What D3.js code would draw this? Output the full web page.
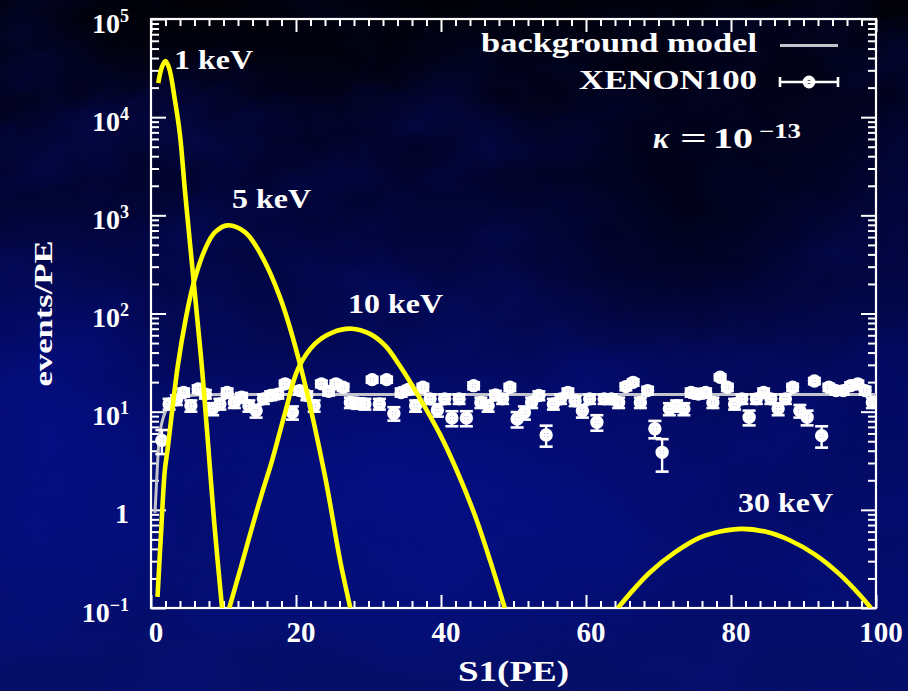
<!DOCTYPE html>
<html>
<head>
<meta charset="utf-8">
<script src="https://cdn.jsdelivr.net/npm/d3@7"></script>
<style>
  html, body { margin: 0; padding: 0; background: #030838; }
  svg { display: block; }
</style>
</head>
<body>
<script>
// ---------- data ----------
// XENON100 S1 spectrum: bin centres (PE), rate (events/PE), 1-sigma errors
const xenonS1 = [1.5, 2.5, 3.5, 4.5, 5.5, 6.5, 7.5, 8.5, 9.5, 10.5,
  11.5, 12.5, 13.5, 14.5, 15.5, 16.5, 17.5, 18.5, 19.5, 20.5,
  21.5, 22.5, 23.5, 24.5, 25.5, 26.5, 27.5, 28.5, 29.5, 30.5,
  31.5, 32.5, 33.5, 34.5, 35.5, 36.5, 37.5, 38.5, 39.5, 40.5,
  41.5, 42.5, 43.5, 44.5, 45.5, 46.5, 47.5, 48.5, 49.5, 50.5,
  51.5, 52.5, 53.5, 54.5, 55.5, 56.5, 57.5, 58.5, 59.5, 60.5,
  61.5, 62.5, 63.5, 64.5, 65.5, 66.5, 67.5, 68.5, 69.5, 70.5,
  71.5, 72.5, 73.5, 74.5, 75.5, 76.5, 77.5, 78.5, 79.5, 80.5,
  81.5, 82.5, 83.5, 84.5, 85.5, 86.5, 87.5, 88.5, 89.5, 90.5,
  91.5, 92.5, 93.5, 94.5, 95.5, 96.5, 97.5, 98.5, 99.5];
const xenonRate = [5.1, 12.0, 13.2, 15.7, 11.5, 17.0, 15.1, 10.7, 12.0, 15.7,
  12.4, 14.0, 11.5, 10.2, 13.5, 14.6, 15.1, 19.2, 9.8, 16.4,
  14.6, 11.5, 19.2, 16.1, 19.2, 17.7, 12.4, 12.2, 12.0, 21.2,
  12.0, 21.2, 9.6, 15.7, 16.8, 11.5, 17.7, 13.5, 10.4, 13.5,
  8.6, 13.5, 8.6, 18.4, 12.4, 11.5, 14.8, 13.5, 17.7, 8.4,
  9.8, 12.4, 14.6, 5.8, 12.0, 13.5, 15.7, 12.9, 10.2, 13.5,
  7.8, 13.5, 13.5, 12.4, 18.0, 19.9, 12.4, 16.4, 6.7, 3.85,
  10.7, 11.5, 10.7, 15.7, 15.1, 15.7, 12.4, 22.4, 17.7, 12.0,
  13.5, 8.75, 13.5, 15.7, 13.5, 10.7, 13.5, 17.7, 10.2, 8.75,
  20.5, 5.7, 17.7, 16.4, 16.4, 18.4, 19.2, 16.4, 12.4];
const xenonErr = [1.4, 1.5, 1.5, 1.5, 1.5, 1.5, 1.5, 1.5, 1.5, 1.5,
  1.5, 1.5, 1.5, 1.5, 1.5, 1.5, 1.5, 1.5, 1.5, 1.5,
  1.5, 1.5, 1.5, 1.5, 1.5, 1.5, 1.5, 1.5, 1.5, 1.5,
  1.5, 1.5, 1.5, 1.5, 1.5, 1.5, 1.5, 1.5, 1.5, 1.5,
  1.5, 1.5, 1.5, 1.5, 1.5, 1.5, 1.5, 1.5, 1.5, 1.5,
  1.5, 1.5, 1.5, 1.4, 1.5, 1.5, 1.5, 1.5, 1.5, 1.5,
  1.4, 1.5, 1.5, 1.5, 1.5, 1.5, 1.5, 1.5, 1.35, 1.4,
  1.5, 1.5, 1.5, 1.5, 1.5, 1.5, 1.5, 1.5, 1.5, 1.5,
  1.5, 1.5, 1.5, 1.5, 1.5, 1.5, 1.5, 1.5, 1.5, 1.5,
  1.5, 1.4, 1.5, 1.5, 1.5, 1.5, 1.5, 1.5, 1.5];

// background model
const bgS    = [0.55, 0.85, 1.1, 1.5, 2.1, 2.9, 4.0, 6.8, 10, 20, 30, 40, 50, 60, 70, 80, 90, 100];
const bgRate = [0.93, 2.5, 5.1, 7.7, 10.5, 12.9, 14.2, 14.9, 15, 15, 15, 15, 15, 15, 15, 15, 15, 15];

// signal spectra for kappa = 1e-13
const keV1S  = [1.0, 1.5, 2.0, 2.5, 3.3, 4.0, 4.7, 5.9, 7.0, 7.9, 8.7, 9.8];
const keV1R  = [22200, 32400, 37300, 31600, 14900, 6550, 1720, 207, 29.5, 4.4, 0.77, 0.1];
const keV5S  = [0.9, 1.4, 1.9, 2.3, 3.7, 4.8, 5.9, 7.5, 8.8, 10.6, 13.0, 15.0, 17.8, 20.6, 24.0, 26.1, 27.5];
const keV5R  = [0.13, 0.61, 2.5, 4.2, 29.5, 89, 207, 460, 671, 791, 671, 419, 146, 29.5, 2.2, 0.30, 0.1];
const keV10S = [10.8, 12.4, 13.8, 15.2, 16.6, 18.5, 20.3, 22.6, 25.0, 27.7, 30.2, 32.3, 34.3, 37.1, 39.9, 42.3, 44.7, 46.8, 48.8];
const keV10R = [0.1, 0.26, 0.61, 1.39, 3.0, 9.8, 27.5, 49, 64, 70, 62, 47, 29.5, 13.6, 5.8, 2.4, 0.87, 0.30, 0.1];
const keV30S = [64.4, 66.1, 68.8, 72.3, 75.7, 78.5, 81.5, 84.7, 88.1, 91.6, 95.0, 97.8, 99.3];
const keV30R = [0.1, 0.141, 0.23, 0.37, 0.52, 0.60, 0.64, 0.60, 0.49, 0.35, 0.22, 0.135, 0.1];

const curveNames = ["1 keV", "5 keV", "10 keV", "30 keV"];

// axis ticks
const xTickValues = [0, 20, 40, 60, 80, 100];
const xTickLabels = ["0", "20", "40", "60", "80", "100"];
const yTickValues = [0.1, 1, 10, 100, 1000, 10000, 100000];
const yTickBase   = ["10", "1", "10", "10", "10", "10", "10"];
const yTickExp    = ["\u22121", "", "1", "2", "3", "4", "5"];

// ---------- layout ----------
const W = 908, H = 691;
const L = 151, R = 876, T = 19, B = 608;
const FONT = "'Liberation Serif', 'Times New Roman', serif";

const svg = d3.select("body").append("svg")
  .attr("width", W).attr("height", H)
  .attr("viewBox", `0 0 ${W} ${H}`);

const defs = svg.append("defs");

// night-sky backdrop
const vg = defs.append("linearGradient").attr("id", "sky")
  .attr("x1", 0).attr("y1", 0).attr("x2", 0).attr("y2", 1);
[[0, "#010106"], [0.12, "#02021c"], [0.35, "#02053c"], [0.6, "#030a62"], [0.85, "#040d6c"], [1, "#050f66"]]
  .forEach(([o, c]) => vg.append("stop").attr("offset", o).attr("stop-color", c));

const clouds = defs.append("filter").attr("id", "clouds")
  .attr("x", 0).attr("y", 0).attr("width", "100%").attr("height", "100%")
  .attr("color-interpolation-filters", "sRGB");
clouds.append("feTurbulence").attr("type", "fractalNoise")
  .attr("baseFrequency", "0.008 0.012").attr("numOctaves", 4).attr("seed", 11);
clouds.append("feColorMatrix").attr("type", "matrix")
  .attr("values", "0 0 0 0 0.03  0 0 0 0 0.07  0 0 0 0 0.55  1.6 0 0 0 -0.62");

const darkSpot = defs.append("radialGradient").attr("id", "darkSpot");
darkSpot.append("stop").attr("offset", 0).attr("stop-color", "#000008").attr("stop-opacity", 0.7);
darkSpot.append("stop").attr("offset", 1).attr("stop-color", "#000008").attr("stop-opacity", 0);

const blueGlow = defs.append("radialGradient").attr("id", "blueGlow");
blueGlow.append("stop").attr("offset", 0).attr("stop-color", "#0612a0").attr("stop-opacity", 0.5);
blueGlow.append("stop").attr("offset", 1).attr("stop-color", "#0612a0").attr("stop-opacity", 0);

svg.append("rect").attr("width", W).attr("height", H).attr("fill", "url(#sky)");
svg.append("ellipse").attr("cx", 420).attr("cy", 500).attr("rx", 360).attr("ry", 180).attr("fill", "url(#blueGlow)");
svg.append("ellipse").attr("cx", 50).attr("cy", 440).attr("rx", 150).attr("ry", 240).attr("fill", "url(#blueGlow)");
svg.append("rect").attr("width", W).attr("height", H).attr("filter", "url(#clouds)").attr("opacity", 0.4);
svg.append("ellipse").attr("cx", 690).attr("cy", 200).attr("rx", 210).attr("ry", 170).attr("fill", "url(#darkSpot)");
svg.append("ellipse").attr("cx", 460).attr("cy", 10).attr("rx", 560).attr("ry", 110).attr("fill", "url(#darkSpot)");

defs.append("clipPath").attr("id", "plotClip")
  .append("rect").attr("x", L).attr("y", T).attr("width", R - L).attr("height", B - T);

// ---------- scales ----------
const x = d3.scaleLinear().domain([0, 100]).range([L, R]);
const y = d3.scaleLog().domain([0.1, 1e5]).range([B, T]);

// ---------- axes (ticks point inward, mirrored on all four sides) ----------
const xMinor = d3.range(0, 101, 2).filter(v => v % 20 !== 0);
const yMinor = [];
for (let e = -1; e < 5; e++) for (let m = 2; m <= 9; m++) yMinor.push(m * Math.pow(10, e));

function styleAxis(g) {
  g.select(".domain").remove();
  g.selectAll("line").attr("stroke", "#ffffff").attr("stroke-width", 2);
  g.selectAll("text").remove();
}
const axes = svg.append("g");
axes.append("g").attr("transform", `translate(0,${B})`)
  .call(d3.axisBottom(x).tickValues(xTickValues).tickSize(-13)).call(styleAxis);
axes.append("g").attr("transform", `translate(0,${B})`)
  .call(d3.axisBottom(x).tickValues(xMinor).tickSize(-7)).call(styleAxis);
axes.append("g").attr("transform", `translate(0,${T})`)
  .call(d3.axisTop(x).tickValues(xTickValues).tickSize(-13)).call(styleAxis);
axes.append("g").attr("transform", `translate(0,${T})`)
  .call(d3.axisTop(x).tickValues(xMinor).tickSize(-7)).call(styleAxis);
axes.append("g").attr("transform", `translate(${L},0)`)
  .call(d3.axisLeft(y).tickValues(yTickValues).tickSize(-15)).call(styleAxis);
axes.append("g").attr("transform", `translate(${L},0)`)
  .call(d3.axisLeft(y).tickValues(yMinor).tickSize(-8)).call(styleAxis);
axes.append("g").attr("transform", `translate(${R},0)`)
  .call(d3.axisRight(y).tickValues(yTickValues).tickSize(-15)).call(styleAxis);
axes.append("g").attr("transform", `translate(${R},0)`)
  .call(d3.axisRight(y).tickValues(yMinor).tickSize(-8)).call(styleAxis);

// frame
svg.append("rect").attr("x", L).attr("y", T).attr("width", R - L).attr("height", B - T)
  .attr("fill", "none").attr("stroke", "#ffffff").attr("stroke-width", 2.2);

// tick labels
const txt = svg.append("g").attr("fill", "#ffffff").attr("font-family", FONT).attr("font-weight", "bold");
txt.selectAll(".xl").data(xTickValues).join("text")
  .attr("x", d => x(d) + 5).attr("y", 642)
  .attr("text-anchor", "middle").attr("font-size", 29)
  .text((d, i) => xTickLabels[i]);

yTickValues.forEach((v, i) => {
  const t = txt.append("text").attr("x", 129).attr("y", y(v) + 13.5)
    .attr("text-anchor", "end").attr("font-size", 28);
  t.append("tspan").text(yTickBase[i]);
  if (yTickExp[i]) {
    t.append("tspan").attr("font-size", 18).attr("dy", -11).text(yTickExp[i]);
  }
});

// axis titles
txt.append("text").attr("x", (L + R) / 2).attr("y", 681)
  .attr("text-anchor", "middle").attr("font-size", 29)
  .attr("textLength", 111).attr("lengthAdjust", "spacingAndGlyphs")
  .text("S1(PE)");
txt.append("text")
  .attr("transform", `translate(52,${(T + B) / 2}) rotate(-90)`)
  .attr("text-anchor", "middle").attr("font-size", 25)
  .attr("textLength", 146).attr("lengthAdjust", "spacingAndGlyphs")
  .text("events/PE");

// ---------- plot content ----------
const plot = svg.append("g").attr("clip-path", "url(#plotClip)");
const smooth = d3.line().x(d => x(d[0])).y(d => y(d[1])).curve(d3.curveCatmullRom.alpha(0.5));
const mono = d3.line().x(d => x(d[0])).y(d => y(d[1])).curve(d3.curveMonotoneX);

// background model
plot.append("path")
  .datum(bgS.map((s, i) => [s, bgRate[i]]))
  .attr("d", mono).attr("fill", "none")
  .attr("stroke", "#c4c4cc").attr("stroke-width", 3);

// XENON100 points with error bars
const pts = xenonS1.map((s, i) => ({ s, v: xenonRate[i], e: xenonErr[i] }));
const pg = plot.append("g").attr("stroke", "#ffffff").attr("fill", "none");
pts.forEach(p => {
  const cx = x(p.s), cy = y(p.v);
  const y0 = y(p.v - p.e), y1 = y(p.v + p.e);
  const xa = x(p.s - 0.5), xb = x(p.s + 0.5);
  pg.append("line").attr("x1", cx).attr("x2", cx).attr("y1", y0).attr("y2", y1).attr("stroke-width", 2.4);
  pg.append("line").attr("x1", cx - 6.5).attr("x2", cx + 6.5).attr("y1", y0).attr("y2", y0).attr("stroke-width", 2.6);
  pg.append("line").attr("x1", cx - 6.5).attr("x2", cx + 6.5).attr("y1", y1).attr("y2", y1).attr("stroke-width", 2.6);
  pg.append("line").attr("x1", xa).attr("x2", xb).attr("y1", cy).attr("y2", cy).attr("stroke-width", 2.4);
  pg.append("circle").attr("cx", cx).attr("cy", cy).attr("r", 4.4).attr("stroke-width", 4.6);
});

// signal spectra
const spectra = [[keV1S, keV1R], [keV5S, keV5R], [keV10S, keV10R], [keV30S, keV30R]];
plot.selectAll(".sig").data(spectra).join("path")
  .attr("d", ([s, r]) => smooth(s.map((v, i) => [v, r[i]])))
  .attr("fill", "none").attr("stroke", "#ffff00").attr("stroke-width", 4.6)
  .attr("stroke-linejoin", "round").attr("stroke-linecap", "butt");

// curve labels
const labelPos = [[174, 69, 79], [232, 208, 79], [348, 313, 95], [738, 512, 95]];
curveNames.forEach((n, i) => {
  const [lx, ly, lw] = labelPos[i];
  txt.append("text").attr("x", lx).attr("y", ly).attr("font-size", 27)
    .attr("textLength", lw).attr("lengthAdjust", "spacingAndGlyphs").text(n);
});

// ---------- legend ----------
txt.append("text").attr("x", 757).attr("y", 52).attr("text-anchor", "end")
  .attr("font-size", 28).attr("textLength", 276).attr("lengthAdjust", "spacingAndGlyphs")
  .text("background model");
svg.append("line").attr("x1", 780).attr("x2", 838).attr("y1", 45.5).attr("y2", 45.5)
  .attr("stroke", "#c4c4cc").attr("stroke-width", 3);

txt.append("text").attr("x", 757).attr("y", 89).attr("text-anchor", "end")
  .attr("font-size", 28).attr("textLength", 178).attr("lengthAdjust", "spacingAndGlyphs")
  .text("XENON100");
const lg = svg.append("g").attr("stroke", "#ffffff").attr("fill", "none");
lg.append("line").attr("x1", 780).attr("x2", 838).attr("y1", 82).attr("y2", 82).attr("stroke-width", 2.6);
lg.append("line").attr("x1", 780).attr("x2", 780).attr("y1", 77).attr("y2", 87).attr("stroke-width", 2.6);
lg.append("line").attr("x1", 838).attr("x2", 838).attr("y1", 77).attr("y2", 87).attr("stroke-width", 2.6);
lg.append("circle").attr("cx", 809).attr("cy", 82).attr("r", 4.2).attr("stroke-width", 4.4);

// coupling annotation
txt.append("text").attr("x", 653).attr("y", 148).attr("font-size", 30)
  .attr("font-style", "italic").text("\u03ba");
txt.append("text").attr("x", 680).attr("y", 148).attr("font-size", 30)
  .attr("textLength", 27).attr("lengthAdjust", "spacingAndGlyphs").text("=");
txt.append("text").attr("x", 713).attr("y", 148).attr("font-size", 30)
  .attr("textLength", 40).attr("lengthAdjust", "spacingAndGlyphs").text("10");
txt.append("text").attr("x", 759).attr("y", 138).attr("font-size", 20)
  .attr("textLength", 42).attr("lengthAdjust", "spacingAndGlyphs").text("\u221213");
</script>
</body>
</html>
